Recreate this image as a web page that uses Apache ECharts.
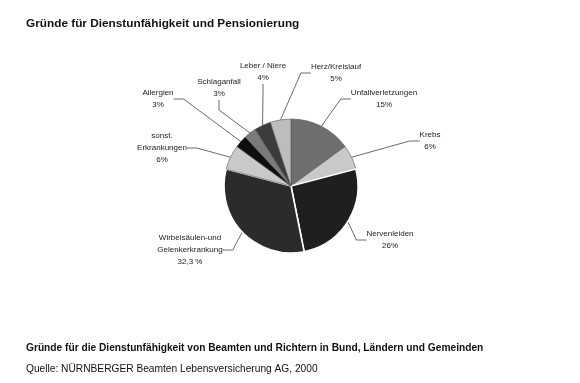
<!DOCTYPE html>
<html><head><meta charset="utf-8">
<script src="https://cdn.jsdelivr.net/npm/echarts@6/dist/echarts.min.js"></script>
<style>html,body{margin:0;padding:0;background:#fff}#c{width:580px;height:383px}</style>
</head><body><div id="c"></div>
<script>
const categories = ['Unfallverletzungen','Krebs','Nervenleiden','Wirbelsäulen-und\nGelenkerkrankung','sonst.\nErkrankungen','Allergien','Schlaganfall','Leber / Niere','Herz/Kreislauf'];
const values = [15, 6, 26, 32.3, 6, 3, 3, 4, 5];
const valueLabels = ['15%','6%','26%','32,3 %','6%','3%','3%','4%','5%'];
const colors = ['#6e6e6e','#c9c9c9','#1f1f1f','#2b2b2b','#c9c9c9','#0e0e0e','#7a7a7a','#3c3c3c','#bdbdbd'];
const labelPos = [[384,99],[430,141],[390,240],[190,250],[162,148],[158,99],[219,88],[263,72],[336,73]];
const whiteBorder = [false,false,true,true,false,false,false,false,false];

const chart = echarts.init(document.getElementById('c'), null, {renderer:'canvas'});
chart.setOption({
  animation:false,
  title:[
    {text:'Gründe für Dienstunfähigkeit und Pensionierung', left:26, top:18, padding:0,
     textStyle:{fontFamily:'Liberation Sans, Arial', fontSize:11.8, fontWeight:'bold', color:'#111'}},
    {text:'Gründe für die Dienstunfähigkeit von Beamten und Richtern in Bund, Ländern und Gemeinden', left:26, top:343, padding:0,
     textStyle:{fontFamily:'Liberation Sans, Arial', fontSize:10.2, fontWeight:'bold', color:'#111'}},
    {text:'Quelle: NÜRNBERGER Beamten Lebensversicherung AG, 2000', left:26, top:364, padding:0,
     textStyle:{fontFamily:'Liberation Sans, Arial', fontSize:10.2, fontWeight:'normal', color:'#111'}}
  ],
  series:[{
    type:'pie',
    center:[291,186],
    radius:67,
    startAngle:90,
    clockwise:true,
    data: categories.map((n,i)=>({
      name:n, value:values[i],
      itemStyle:{color:colors[i], borderColor: whiteBorder[i] ? '#fff' : '#555', borderWidth: whiteBorder[i] ? 1.6 : 0.6},
      label:{formatter: n + '\n' + valueLabels[i]}
    })),
    label:{show:true, position:'outside', fontFamily:'Liberation Sans, Arial', fontSize:8, color:'#222', lineHeight:12, align:'center'},
    labelLine:{show:true, length:10, length2:10, lineStyle:{color:'#444', width:0.8}},
    labelLayout: function(p){
      const pos = labelPos[p.dataIndex];
      return {x:pos[0], y:pos[1], align:'center', verticalAlign:'middle'};
    },
    emphasis:{disabled:true}
  }]
});
</script></body></html>
